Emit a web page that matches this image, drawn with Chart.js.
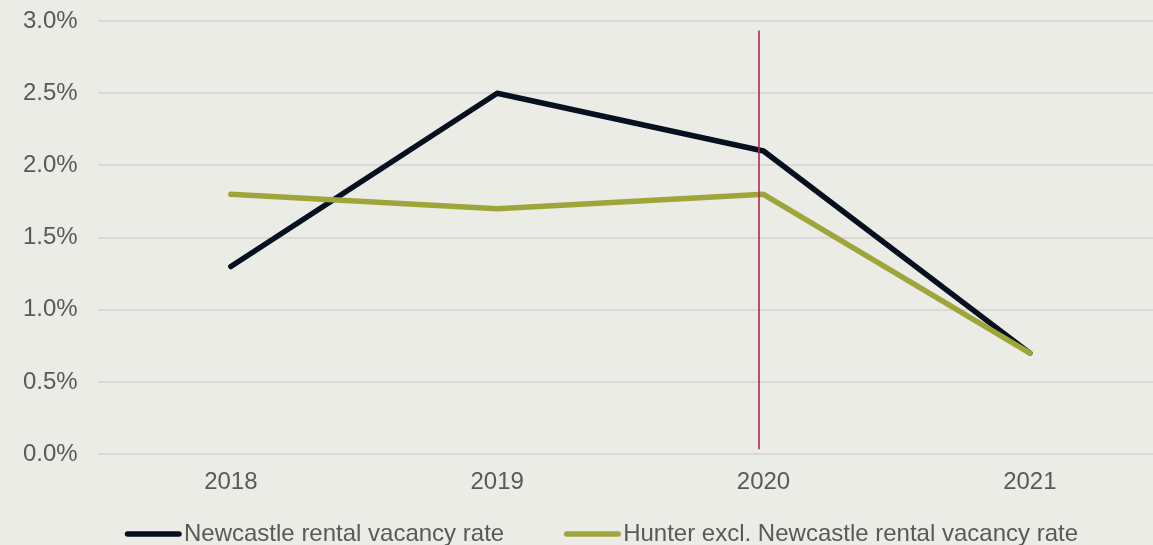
<!DOCTYPE html>
<html>
<head>
<meta charset="utf-8">
<script src="https://cdn.jsdelivr.net/npm/chart.js@4/dist/chart.umd.min.js"></script>
<style>
  html, body { margin: 0; padding: 0; background: #ECECE7; overflow: hidden; }
  #wrap { width: 1153px; height: 545px; overflow: hidden; position: relative; }
  canvas { display: block; }
</style>
</head>
<body>
<div id="wrap"><canvas id="c" width="1166" height="556"></canvas></div>
<script>
// ---- data ----
const categories = ['2018', '2019', '2020', '2021'];
const newcastleRate = [1.3, 2.5, 2.1, 0.7];
const hunterRate = [1.8, 1.7, 1.8, 0.7];
const seriesNames = ['Newcastle rental vacancy rate', 'Hunter excl. Newcastle rental vacancy rate'];
const yMin = 0, yMax = 3, yStep = 0.5;
// vertical marker line (category position just before 2020, in value units)
const markerPos = [1.983, 1.983];
const markerValues = [0.035, 2.935];

// ---- styles ----
const TEXT = '#595959';
const FONT = "'Liberation Sans', Arial, Helvetica, sans-serif";
const DARK = '#06101F';
const OLIVE = '#9EA63A';
const RED = '#A82A50';
const LEGEND_SHIFT = 48;

function legendLine(color) {
  const c = document.createElement('canvas');
  c.width = 120; c.height = 10;
  const g = c.getContext('2d');
  g.strokeStyle = color; g.lineWidth = 5.5; g.lineCap = 'round';
  g.beginPath(); g.moveTo(63.5, 5); g.lineTo(115, 5); g.stroke();
  return c;
}

const legendShift = {
  id: 'legendShift',
  afterLayout(chart) {
    if (chart.legend) { chart.legend.left += LEGEND_SHIFT; chart.legend.right += LEGEND_SHIFT; }
  }
};

new Chart(document.getElementById('c'), {
  type: 'line',
  data: {
    labels: categories,
    datasets: [
      {
        label: seriesNames[0], data: newcastleRate, xAxisID: 'x', yAxisID: 'y',
        borderColor: DARK, backgroundColor: DARK, borderWidth: 5.5,
        borderCapStyle: 'round', borderJoinStyle: 'round', tension: 0,
        pointRadius: 0, pointHoverRadius: 0, pointStyle: legendLine(DARK), order: 2
      },
      {
        label: seriesNames[1], data: hunterRate, xAxisID: 'x', yAxisID: 'y',
        borderColor: OLIVE, backgroundColor: OLIVE, borderWidth: 5.5,
        borderCapStyle: 'round', borderJoinStyle: 'round', tension: 0,
        pointRadius: 0, pointHoverRadius: 0, pointStyle: legendLine(OLIVE), order: 1
      },
      {
        label: 'marker', data: markerPos.map((x, i) => ({ x: x, y: markerValues[i] })),
        xAxisID: 'xm', yAxisID: 'y',
        borderColor: RED, backgroundColor: RED, borderWidth: 1.6,
        pointRadius: 0, pointHoverRadius: 0, order: 0
      }
    ]
  },
  options: {
    responsive: false,
    animation: false,
    devicePixelRatio: 1,
    layout: { padding: { left: 17, right: 3, top: 21, bottom: 0 } },
    plugins: {
      tooltip: { enabled: false },
      title: { display: false },
      legend: {
        position: 'bottom',
        align: 'start',
        labels: {
          usePointStyle: true,
          pointStyleWidth: 96,
          padding: 11,
          color: TEXT,
          font: { family: FONT, size: 24 },
          filter: (item) => item.datasetIndex < 2,
          sort: (a, b) => a.datasetIndex - b.datasetIndex
        }
      }
    },
    scales: {
      x: {
        type: 'category',
        offset: true,
        grid: { display: false, drawTicks: false },
        border: { display: false },
        ticks: { color: TEXT, font: { family: FONT, size: 24 }, padding: 14, maxRotation: 0 }
      },
      xm: {
        type: 'linear',
        display: false,
        min: -0.5,
        max: categories.length - 0.5
      },
      y: {
        min: yMin, max: yMax,
        grid: { color: '#D9D9D6', lineWidth: 2, drawTicks: true, tickLength: 14, tickColor: 'rgba(0,0,0,0)' },
        border: { display: false },
        ticks: {
          stepSize: yStep,
          color: TEXT,
          padding: 6,
          font: { family: FONT, size: 24 },
          callback: (v) => v.toFixed(1) + '%'
        }
      }
    }
  },
  plugins: [legendShift]
});
</script>
</body>
</html>
